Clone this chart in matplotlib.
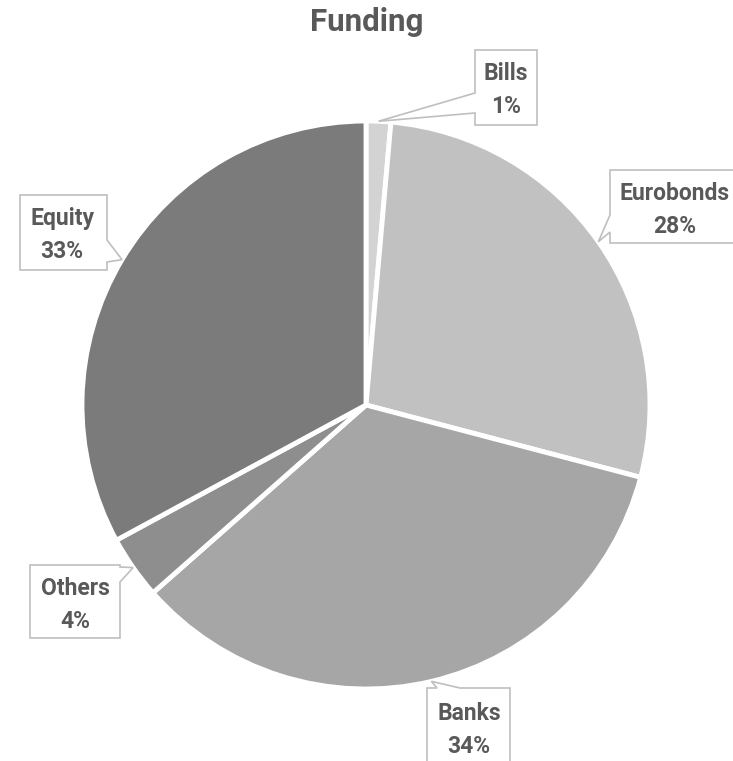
import numpy as np
import matplotlib
matplotlib.use("Agg")
import matplotlib.pyplot as plt
from matplotlib.patches import Polygon

plt.rcParams['font.family'] = ['Roboto', 'DejaVu Sans']

title = "Funding"
categories = ["Bills", "Eurobonds", "Banks", "Others", "Equity"]
values = [1.4, 27.7, 34.4, 3.6, 32.9]
colors = ["#d3d3d3", "#c1c1c1", "#a6a6a6", "#8e8e8e", "#7b7b7b"]

W, H = 733, 761
fig = plt.figure(figsize=(W / 100, H / 100), dpi=100)

cx, cy, r = 366, 405, 284
pie_ax = fig.add_axes([(cx - r) / W, (H - cy - r) / H, 2 * r / W, 2 * r / H])
wedges, _ = pie_ax.pie(values, colors=colors, startangle=90, counterclock=False,
                       radius=1, wedgeprops=dict(edgecolor="white", linewidth=3.5))
pie_ax.set_xlim(-1, 1)
pie_ax.set_ylim(-1, 1)
pie_ax.set_aspect('equal')
pie_ax.axis('off')

ov = fig.add_axes([0, 0, 1, 1])
ov.set_xlim(0, W)
ov.set_ylim(H, 0)
ov.axis('off')

fig.text(0.5, 1 - 22 / H, title, ha='center', va='center', fontsize=22.5,
         fontweight='bold', color='#595959')

# callout layout: box (x0, y0, x1, y1), edge with pointer base, base span, text centre
layout = {
    "Bills":     ((475, 50, 537, 125), 'left', (93, 113), (506, 90)),
    "Eurobonds": ((610, 170, 760, 243), 'left', (215, 232), (675, 210)),
    "Banks":     ((427, 688, 510, 775), 'top', (437, 460), (469, 730)),
    "Others":    ((30, 565, 120, 638), 'right', (567, 582), (75, 605)),
    "Equity":    ((20, 195, 107, 270), 'right', (240, 262), (62, 235)),
}

total = sum(values)
cum = 0.0
for cat, v in zip(categories, values):
    mid = (cum + v / 2) / total * 2 * np.pi
    cum += v
    tip = (cx + r * np.sin(mid), cy - r * np.cos(mid))
    (x0, y0, x1, y1), edge, (b1, b2), (tx, ty) = layout[cat]
    if edge == 'left':
        pts = [(x0, y0), (x1, y0), (x1, y1), (x0, y1), (x0, b2), tip, (x0, b1)]
    elif edge == 'right':
        pts = [(x0, y0), (x1, y0), (x1, b1), tip, (x1, b2), (x1, y1), (x0, y1)]
    elif edge == 'top':
        pts = [(x0, y0), (b1, y0), tip, (b2, y0), (x1, y0), (x1, y1), (x0, y1)]
    else:
        pts = [(x0, y0), (x1, y0), (x1, y1), (b2, y1), tip, (b1, y1), (x0, y1)]
    ov.add_patch(Polygon(pts, closed=True, facecolor='white', edgecolor='#bfbfbf',
                         linewidth=1.2, joinstyle='miter', clip_on=False))
    pct = f"{round(v / total * 100):d}%"
    ov.text(tx, ty, f"{cat}\n{pct}", ha='center', va='center', fontsize=16.5,
            fontweight='bold', color='#595959', linespacing=1.55)

fig.savefig("out.png", dpi=100)
